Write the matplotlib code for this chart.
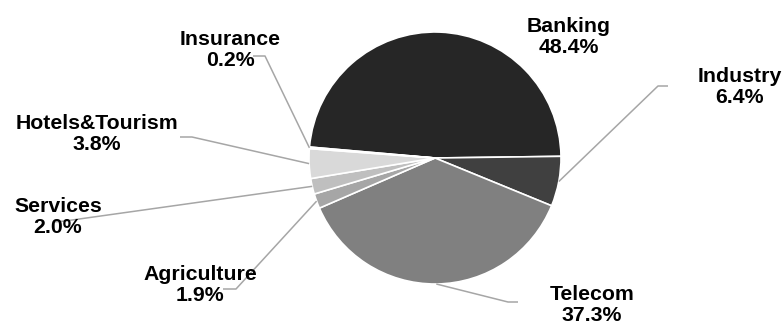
import numpy as np
import matplotlib.pyplot as plt

# sector shares (%)
sectors = ["Banking", "Industry", "Telecom", "Agriculture", "Services",
           "Hotels&Tourism", "Insurance"]
shares = [48.4, 6.4, 37.3, 1.9, 2.0, 3.8, 0.2]
colors = ["#262626", "#404040", "#808080", "#a6a6a6", "#bfbfbf",
          "#d9d9d9", "#f2f2f2"]

W, H = 784, 326
# label block centres (px from top-left) and leader elbow / end points
label_pos = [(569, 37), (740, 87), (592, 305), (200, 285), (58, 217),
             (97, 134), (230, 50)]
leaders = [None, [(658, 86), (668, 86)], [(508, 302), (518, 302)],
           [(236, 289), (223, 289)], [(65, 221), (53, 222)],
           [(192, 137), (180, 137)], [(265, 56), (253, 56)]]

cx, cy, r = 435, 158, 126
start = 175.0

fig = plt.figure(figsize=(W / 100, H / 100), dpi=100)
ax = fig.add_axes([0, 0, 1, 1])

wedges, _ = ax.pie(shares, colors=colors, startangle=start, counterclock=False,
                   center=(cx, H - cy), radius=r, frame=True,
                   wedgeprops=dict(edgecolor="white", linewidth=1.2))
ax.set_xlim(0, W)
ax.set_ylim(0, H)
ax.set_aspect("equal")
ax.axis("off")

for w, name, val, pos, ld in zip(wedges, sectors, shares, label_pos, leaders):
    mid = np.deg2rad((w.theta1 + w.theta2) / 2)
    ax.text(pos[0], H - pos[1], f"{name}\n{val:.1f}%", ha="center", va="center",
            fontsize=15.3, fontweight="bold", family="Liberation Sans",
            color="black", linespacing=1.1)
    if ld is None:
        continue
    xs = [cx + r * np.cos(mid)] + [p[0] for p in ld]
    ys = [H - cy + r * np.sin(mid)] + [H - p[1] for p in ld]
    ax.plot(xs, ys, color="#a6a6a6", lw=1.1, solid_capstyle="butt")

fig.savefig("out.png", dpi=100)
